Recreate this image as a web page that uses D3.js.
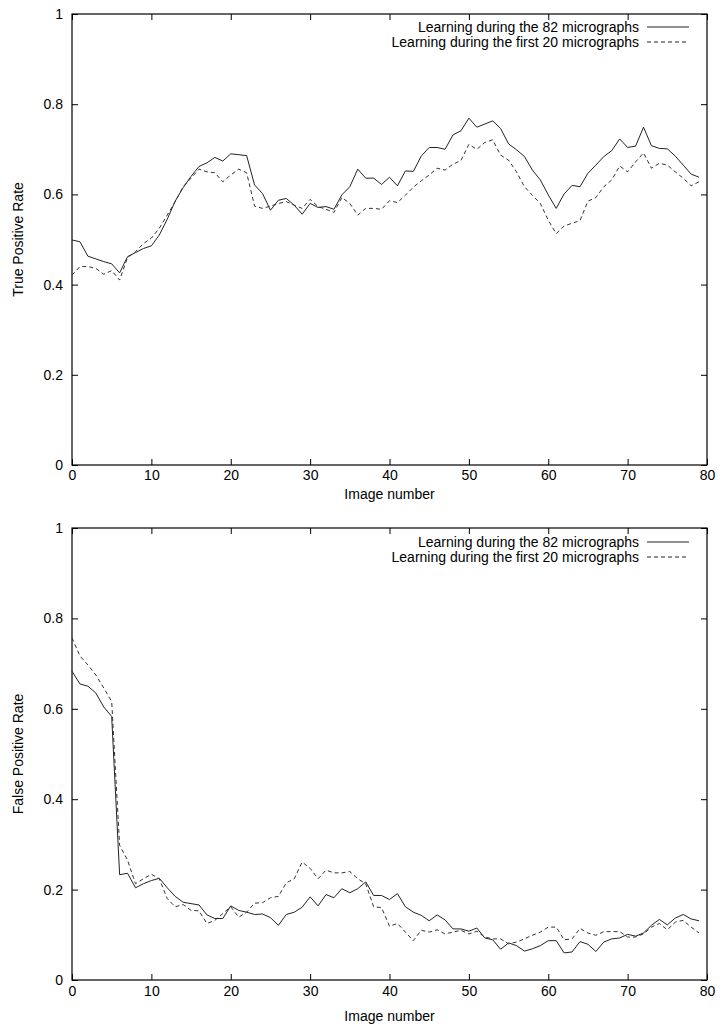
<!DOCTYPE html>
<html><head><meta charset="utf-8">
<script src="https://cdn.jsdelivr.net/npm/d3@7"></script>
<style>body{margin:0;background:#fff}svg{display:block}text{font-family:"Liberation Sans",Arial,sans-serif;fill:#000}</style>
</head><body>
<script>
const imageNumbers = d3.range(0, 80);
const xTicks = [0,10,20,30,40,50,60,70,80];
const yTicks = [0,0.2,0.4,0.6,0.8,1];
const yTickLabels = ["0","0.2","0.4","0.6","0.8","1"];
const seriesNames = ["Learning during the 82 micrographs","Learning during the first 20 micrographs"];

const tprAll = [0.499,0.495,0.463,0.457,0.451,0.446,0.426,0.462,0.471,0.480,
0.486,0.510,0.545,0.585,0.615,0.640,0.662,0.670,0.682,0.674,
0.690,0.688,0.686,0.621,0.602,0.565,0.587,0.591,0.576,0.556,
0.580,0.571,0.573,0.567,0.599,0.617,0.656,0.636,0.636,0.622,
0.638,0.619,0.652,0.651,0.685,0.704,0.704,0.700,0.732,0.741,
0.769,0.749,0.756,0.763,0.746,0.712,0.699,0.684,0.654,0.632,
0.599,0.569,0.601,0.620,0.617,0.647,0.665,0.684,0.697,0.723,
0.704,0.707,0.749,0.708,0.702,0.701,0.685,0.665,0.645,0.638];
const tprFirst20 = [0.421,0.440,0.440,0.436,0.423,0.431,0.410,0.460,0.473,0.491,
0.503,0.525,0.554,0.584,0.617,0.636,0.656,0.650,0.648,0.628,
0.643,0.656,0.648,0.574,0.569,0.574,0.580,0.584,0.576,0.569,
0.589,0.573,0.567,0.560,0.593,0.580,0.554,0.569,0.569,0.567,
0.586,0.582,0.598,0.616,0.630,0.643,0.658,0.654,0.667,0.675,
0.711,0.700,0.715,0.721,0.687,0.676,0.650,0.617,0.598,0.580,
0.543,0.513,0.530,0.536,0.542,0.585,0.593,0.617,0.632,0.663,
0.650,0.672,0.692,0.658,0.669,0.665,0.650,0.636,0.619,0.628];
const fprAll = [0.683,0.655,0.650,0.635,0.604,0.583,0.233,0.236,0.204,0.213,
0.220,0.225,0.204,0.185,0.172,0.169,0.166,0.144,0.136,0.136,
0.164,0.154,0.150,0.145,0.146,0.138,0.121,0.145,0.150,0.161,
0.184,0.164,0.189,0.182,0.202,0.193,0.202,0.217,0.187,0.187,
0.178,0.191,0.162,0.150,0.143,0.131,0.144,0.133,0.113,0.113,
0.108,0.115,0.093,0.089,0.068,0.082,0.076,0.064,0.069,0.076,
0.087,0.087,0.060,0.062,0.085,0.079,0.063,0.084,0.091,0.093,
0.101,0.097,0.104,0.121,0.134,0.122,0.137,0.145,0.135,0.131];
const fprFirst20 = [0.757,0.717,0.697,0.675,0.646,0.616,0.298,0.265,0.213,0.224,
0.234,0.224,0.180,0.162,0.167,0.154,0.153,0.125,0.132,0.147,
0.162,0.139,0.150,0.170,0.171,0.182,0.185,0.215,0.224,0.261,
0.247,0.224,0.243,0.237,0.237,0.240,0.224,0.213,0.162,0.160,
0.119,0.125,0.106,0.087,0.110,0.106,0.111,0.102,0.106,0.110,
0.102,0.108,0.095,0.091,0.091,0.080,0.084,0.091,0.099,0.106,
0.117,0.117,0.089,0.091,0.114,0.104,0.099,0.107,0.107,0.107,
0.095,0.095,0.102,0.117,0.125,0.111,0.128,0.132,0.117,0.104];

const W = 724, H = 1031, FS = 14;
const svg = d3.select("body").append("svg").attr("width", W).attr("height", H);

function panel(top, bottom, yLabel, s1, s2, legendY, xPad, titleY) {
  const x = d3.scaleLinear().domain([0, 80]).range([72, 707]);
  const y = d3.scaleLinear().domain([0, 1]).range([bottom, top]);
  const g = svg.append("g");
  const tl = 6;
  g.append("g").attr("transform", `translate(0,${bottom})`)
    .call(d3.axisBottom(x).tickValues(xTicks).tickSize(-tl).tickPadding(xPad).tickFormat(d3.format("d")))
    .call(a => { a.select(".domain").remove(); a.selectAll("text").attr("font-size", FS).attr("font-family", "Liberation Sans, Arial, sans-serif"); a.selectAll("line").attr("stroke", "#000"); });
  g.append("g").attr("transform", `translate(0,${top})`)
    .call(d3.axisTop(x).tickValues(xTicks).tickSize(-tl).tickFormat(""))
    .call(a => { a.select(".domain").remove(); a.selectAll("line").attr("stroke", "#000"); });
  g.append("g").attr("transform", `translate(72,0)`)
    .call(d3.axisLeft(y).tickValues(yTicks).tickSize(-tl).tickPadding(9).tickFormat((d, i) => yTickLabels[i]))
    .call(a => { a.select(".domain").remove(); a.selectAll("text").attr("font-size", FS).attr("font-family", "Liberation Sans, Arial, sans-serif"); a.selectAll("line").attr("stroke", "#000"); });
  g.append("g").attr("transform", `translate(707,0)`)
    .call(d3.axisRight(y).tickValues(yTicks).tickSize(-tl).tickFormat(""))
    .call(a => { a.select(".domain").remove(); a.selectAll("line").attr("stroke", "#000"); });
  g.append("rect").attr("x", 72).attr("y", top).attr("width", 635).attr("height", bottom - top)
    .attr("fill", "none").attr("stroke", "#000").attr("stroke-width", 1.2);
  const line = d3.line().x((d, i) => x(imageNumbers[i])).y(d => y(d));
  g.append("path").datum(s1).attr("d", line).attr("fill", "none").attr("stroke", "#222").attr("stroke-width", 1);
  g.append("path").datum(s2).attr("d", line).attr("fill", "none").attr("stroke", "#333").attr("stroke-width", 1).attr("stroke-dasharray", "4,3");
  seriesNames.forEach((nm, k) => {
    const ly = legendY + k * 15;
    g.append("text").attr("x", 639).attr("y", ly).attr("dy", "0.35em").attr("text-anchor", "end").attr("font-size", FS).text(nm);
    g.append("line").attr("x1", 647).attr("x2", 689).attr("y1", ly).attr("y2", ly)
      .attr("stroke", "#222").attr("stroke-width", 1).attr("stroke-dasharray", k ? "4,3" : null);
  });
  g.append("text").attr("x", 389.5).attr("y", titleY).attr("dy", "0.35em").attr("text-anchor", "middle").attr("font-size", FS).text("Image number");
  g.append("text").attr("transform", `translate(18,${(top + bottom) / 2}) rotate(-90)`).attr("dy", "0.35em").attr("text-anchor", "middle").attr("font-size", FS).text(yLabel);
}

panel(14, 465, "True Positive Rate", tprAll, tprFirst20, 27, 5, 494);
panel(528, 980, "False Positive Rate", fprAll, fprFirst20, 542, 6, 1016);
</script>
</body></html>
